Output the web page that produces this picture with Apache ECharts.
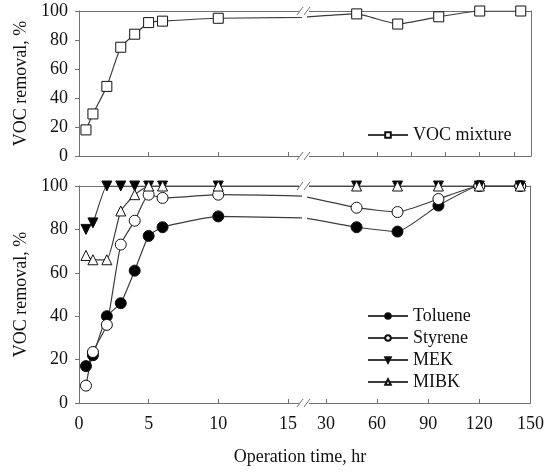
<!DOCTYPE html>
<html><head><meta charset="utf-8">
<script src="https://cdn.jsdelivr.net/npm/echarts@6.0.0/dist/echarts.min.js"></script>
<style>html,body{margin:0;padding:0;background:#fff}#c{width:547px;height:473px}</style>
</head><body><div id="c"></div>
<script>
// ---- data ----
const timeH      = [0.5, 1, 2, 3, 4, 5, 6, 10, 48, 72, 96, 120, 144];
const vocMixture = [18, 29, 48, 75, 84, 92, 93, 95, 98, 91, 96, 100, 100];
const toluene    = [17, 22, 40, 46, 61, 77, 81, 86, 81, 79, 91, 100, 100];
const styrene    = [8, 23.5, 36, 73, 84, 96, 94.5, 96, 90, 88, 94, 100, 100];
const mek        = [80, 83, 100, 100, 100, 100, 100, 100, 100, 100, 100, 100, 100];
const mibk       = [68, 66, 66, 88.5, 96, 100, 100, 100, 100, 100, 100, 100, 100];
const yTicks          = [0, 20, 40, 60, 80, 100];
const xTicksLeft      = [0, 5, 10, 15];
const xTicksRight     = [30, 60, 90, 120, 150];
const xTicksRightTop  = [40, 60, 80, 100, 120, 140];
const yTitle = 'VOC removal, %';
const xTitle = 'Operation time, hr';

// ---- chart ----
const FONT = 'Liberation Serif';
const AX = '#707070';
const LINE = '#3c3c3c';
const TXT = '#111';
const LEFT_MAX = 15.87, RIGHT_MIN = 19.5, RIGHT_MAX = 150;

const grids = [
  {left: 79, top: 11, width: 221, height: 145},
  {left: 308, top: 11, width: 223, height: 145},
  {left: 79, top: 186, width: 221, height: 217},
  {left: 308, top: 186, width: 223, height: 217}
];
const isLeft = g => g % 2 === 0;

const xAxes = [];
[0,1,2,3].forEach(g => {
  const left = isLeft(g);
  const ticks = left ? xTicksLeft : (g === 1 ? xTicksRightTop : xTicksRight);
  const showLab = g >= 2;
  xAxes.push({
    type: 'value', gridIndex: g,
    min: left ? 0 : RIGHT_MIN, max: left ? LEFT_MAX : RIGHT_MAX,
    axisLine: {show: true, onZero: false, lineStyle: {color: AX, width: 1}},
    axisTick: {show: true, inside: true, length: 4, customValues: ticks, lineStyle: {color: AX}},
    axisLabel: {show: showLab, customValues: ticks, fontFamily: FONT, fontSize: 18, color: TXT, margin: 12},
    splitLine: {show: false}
  });
});
[0,1,2,3].forEach(g => {
  const left = isLeft(g);
  xAxes.push({
    type: 'value', gridIndex: g, position: 'top',
    min: left ? 0 : RIGHT_MIN, max: left ? LEFT_MAX : RIGHT_MAX,
    axisLine: {show: true, onZero: false, lineStyle: {color: AX, width: 1}},
    axisTick: {show: false}, axisLabel: {show: false}, splitLine: {show: false}
  });
});

const yAxes = [0,1,2,3].map(g => {
  const left = isLeft(g);
  return {
    type: 'value', gridIndex: g, min: 0, max: 100, interval: 20,
    position: left ? 'left' : 'right',
    name: left ? yTitle : '', nameLocation: 'middle', nameGap: 49,
    nameTextStyle: {fontFamily: FONT, fontSize: 18, color: TXT},
    axisLine: {show: true, onZero: false, lineStyle: {color: AX, width: 1}},
    axisTick: {show: left, inside: false, length: 4, lineStyle: {color: AX}},
    axisLabel: {show: left, fontFamily: FONT, fontSize: 18, color: TXT, margin: 11},
    splitLine: {show: false}
  };
});

const styles = {
  'VOC mixture': {symbol: 'rect', size: 10, fill: '#fff', rot: 0},
  'Toluene': {symbol: 'circle', size: 11, fill: '#000', rot: 0},
  'Styrene': {symbol: 'circle', size: 11, fill: '#fff', rot: 0},
  'MEK': {symbol: 'triangle', size: 10, fill: '#000', rot: 180},
  'MIBK': {symbol: 'triangle', size: 10, fill: '#fff', rot: 0}
};

function mkSeries(name, vals, panel) {
  const s = styles[name];
  const out = [];
  [0, 1].forEach(k => {
    const g = panel * 2 + k;
    out.push({
      type: 'line', name: name, xAxisIndex: g, yAxisIndex: g,
      data: timeH.map((t, i) => [t, vals[i]]),
      clip: true, smooth: 0.15,
      symbol: s.symbol, symbolSize: s.size, symbolRotate: s.rot,
      showAllSymbol: true,
      lineStyle: {color: LINE, width: 1.2},
      itemStyle: {color: s.fill, borderColor: '#111', borderWidth: 1},
      emphasis: {disabled: true},
      animation: false
    });
  });
  return out;
}

const series = [
  ...mkSeries('VOC mixture', vocMixture, 0),
  ...mkSeries('Toluene', toluene, 1),
  ...mkSeries('Styrene', styrene, 1),
  ...mkSeries('MEK', mek, 1),
  ...mkSeries('MIBK', mibk, 1)
];

const legendCommon = {
  orient: 'vertical', itemWidth: 40, itemHeight: 7, itemGap: 4,
  textStyle: {fontFamily: FONT, fontSize: 18, color: TXT},
  selectedMode: false
};

const breakYs = [11, 156, 186, 403];
const graphics = [];
breakYs.forEach(y => {
  graphics.push({type: 'rect', shape: {x: 299, y: y - 1, width: 10, height: 2}, style: {fill: '#fff'}, z: 100});
  graphics.push({type: 'line', shape: {x1: 297, y1: y + 4, x2: 303, y2: y - 4}, style: {stroke: AX, lineWidth: 1}, z: 101});
  graphics.push({type: 'line', shape: {x1: 304, y1: y + 4, x2: 310, y2: y - 4}, style: {stroke: AX, lineWidth: 1}, z: 101});
});
graphics.push({type: 'text', x: 300, y: 457, style: {text: xTitle, font: '18px "Liberation Serif"', fill: TXT, align: 'center', verticalAlign: 'middle'}});

const chart = echarts.init(document.getElementById('c'), null, {renderer: 'canvas'});
chart.setOption({
  animation: false,
  backgroundColor: '#fff',
  grid: grids,
  xAxis: xAxes,
  yAxis: yAxes,
  legend: [
    Object.assign({data: ['VOC mixture'], left: 362, top: 121}, legendCommon),
    Object.assign({data: ['Toluene', 'Styrene', 'MEK', 'MIBK'], left: 362, top: 302}, legendCommon)
  ],
  series: series,
  graphic: graphics
});
</script>
</body></html>
